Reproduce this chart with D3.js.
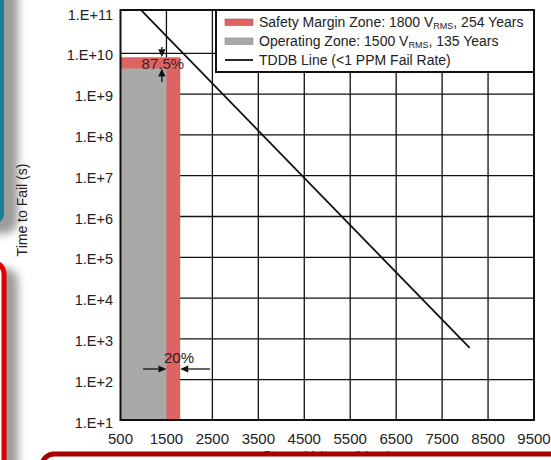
<!DOCTYPE html>
<html>
<head>
<meta charset="utf-8">
<script src="https://cdn.jsdelivr.net/npm/d3@7"></script>
<style>
  html, body { margin: 0; padding: 0; background: #fff; }
  svg { display: block; font-family: "Liberation Sans", Arial, sans-serif; }
</style>
</head>
<body>
<svg id="chart" width="551" height="460"></svg>
<script>
// Axis ticks
const xTicks = [500, 1500, 2500, 3500, 4500, 5500, 6500, 7500, 8500, 9500];
const yTicks = [1e1, 1e2, 1e3, 1e4, 1e5, 1e6, 1e7, 1e8, 1e9, 1e10, 1e11];
const yTickLabels = ["1.E+1", "1.E+2", "1.E+3", "1.E+4", "1.E+5", "1.E+6",
                     "1.E+7", "1.E+8", "1.E+9", "1.E+10", "1.E+11"];

// Zones: rated voltage and lifetime in years
const zoneNames = ["Safety Margin Zone", "Operating Zone"];
const zoneVoltage = [1800, 1500];
const zoneYears = [254, 135];
const zoneColors = ["#de6464", "#a9a9a9"];

// TDDB line end points (voltage, seconds)
const tddbVoltage = [930, 8100];
const tddbTime = [1.2e11, 6e2];

const SECONDS_PER_YEAR = 365 * 24 * 3600;
const V_MIN = 500;

const svg = d3.select("#chart");

// ---- slide decoration around the chart ----
const defs = svg.append("defs");
const blur = defs.append("filter").attr("id", "shadow")
  .attr("x", "-50%").attr("y", "-50%").attr("width", "200%").attr("height", "200%");
blur.append("feGaussianBlur").attr("stdDeviation", 4);

const deco = svg.append("g");
// teal panel (top left) with shadow
deco.append("rect").attr("x", -60).attr("y", -20).attr("width", 78).attr("height", 254)
  .attr("rx", 14).attr("fill", "#9c9c9c").attr("filter", "url(#shadow)");
deco.append("rect").attr("x", -60).attr("y", -20).attr("width", 64).attr("height", 245)
  .attr("rx", 12).attr("fill", "#1a7d92");
// red panel (bottom left) with shadow
deco.append("rect").attr("x", -60).attr("y", 268).attr("width", 78).attr("height", 240)
  .attr("rx", 14).attr("fill", "#9c9c9c").attr("filter", "url(#shadow)");
deco.append("rect").attr("x", -60).attr("y", 262).attr("width", 64).attr("height", 240)
  .attr("rx", 12).attr("fill", "#fff").attr("stroke", "#e00000").attr("stroke-width", 5);

// ---- chart ----
const plot = { left: 120.5, right: 534, top: 10, bottom: 420 };

const x = d3.scaleLinear().domain([500, 9500]).range([plot.left, plot.right]);
const y = d3.scaleLog().domain([1e1, 1e11]).range([420.5, 12.5]);

const g = svg.append("g");

// plot background
g.append("rect").attr("x", plot.left).attr("y", plot.top)
  .attr("width", plot.right - plot.left).attr("height", plot.bottom - plot.top)
  .attr("fill", "#fff");

// grid
g.append("g").selectAll("line").data(xTicks.slice(1, -1)).join("line")
  .attr("x1", d => x(d)).attr("x2", d => x(d))
  .attr("y1", plot.top).attr("y2", plot.bottom)
  .attr("stroke", "#111").attr("stroke-width", 1.3);
g.append("g").selectAll("line").data(yTicks.slice(1, -1)).join("line")
  .attr("x1", plot.left).attr("x2", plot.right)
  .attr("y1", d => y(d)).attr("y2", d => y(d))
  .attr("stroke", "#111").attr("stroke-width", 1.3);

// zone bars (safety margin behind, operating in front)
g.append("g").selectAll("rect").data(zoneNames).join("rect")
  .attr("x", x(V_MIN))
  .attr("y", (d, i) => y(zoneYears[i] * SECONDS_PER_YEAR))
  .attr("width", (d, i) => x(zoneVoltage[i]) - x(V_MIN))
  .attr("height", (d, i) => plot.bottom - y(zoneYears[i] * SECONDS_PER_YEAR))
  .attr("fill", (d, i) => zoneColors[i]);

// TDDB line, clipped to the plot frame
defs.append("clipPath").attr("id", "plotClip").append("rect")
  .attr("x", plot.left).attr("y", plot.top)
  .attr("width", plot.right - plot.left).attr("height", plot.bottom - plot.top);
const tddb = tddbVoltage.map((v, i) => [v, tddbTime[i]]);
g.append("path").datum(tddb)
  .attr("clip-path", "url(#plotClip)")
  .attr("d", d3.line().x(d => x(d[0])).y(d => y(d[1])))
  .attr("fill", "none").attr("stroke", "#111").attr("stroke-width", 1.8);

// frame
g.append("rect").attr("x", plot.left).attr("y", plot.top)
  .attr("width", plot.right - plot.left).attr("height", plot.bottom - plot.top)
  .attr("fill", "none").attr("stroke", "#111").attr("stroke-width", 2);

// arrow helper: tail -> tip with a filled head
function arrow(x1, y1, x2, y2) {
  const a = Math.atan2(y2 - y1, x2 - x1);
  const len = 8, half = 3.6;
  const bx = x2 - len * Math.cos(a), by = y2 - len * Math.sin(a);
  g.append("line").attr("x1", x1).attr("y1", y1).attr("x2", bx).attr("y2", by)
    .attr("stroke", "#111").attr("stroke-width", 1.3);
  g.append("path")
    .attr("d", `M${x2},${y2}L${bx - half * Math.sin(a)},${by + half * Math.cos(a)}L${bx + half * Math.sin(a)},${by - half * Math.cos(a)}Z`)
    .attr("fill", "#111");
}

// lifetime annotation (87.5%)
const yRed = y(zoneYears[0] * SECONDS_PER_YEAR);
const yGray = y(zoneYears[1] * SECONDS_PER_YEAR);
const xAnn = x(1400);
arrow(xAnn, 47, xAnn, yRed);
arrow(xAnn, 82, xAnn, yGray);
g.append("text").attr("x", xAnn + 1).attr("y", 68.5)
  .attr("text-anchor", "middle").attr("font-size", 15).attr("fill", "#4a1e1e")
  .text("87.5%");

// voltage margin annotation (20%)
const yArr = 369;
arrow(143, yArr, x(zoneVoltage[1]), yArr);
arrow(210, yArr, x(zoneVoltage[0]), yArr);
g.append("text").attr("x", 179).attr("y", 363)
  .attr("text-anchor", "middle").attr("font-size", 15).attr("fill", "#222")
  .text("20%");

// y tick labels
g.append("g").selectAll("text").data(yTicks).join("text")
  .attr("x", 113).attr("y", d => y(d) + 2)
  .attr("dy", "0.35em").attr("text-anchor", "end")
  .attr("font-size", 14.5).attr("fill", "#222")
  .text((d, i) => yTickLabels[i]);

// x tick labels
g.append("g").selectAll("text").data(xTicks).join("text")
  .attr("x", d => x(d)).attr("y", 444)
  .attr("text-anchor", "middle").attr("font-size", 15).attr("fill", "#222")
  .text(d => d);

// axis titles
g.append("text").attr("transform", "translate(27,210) rotate(-90)")
  .attr("text-anchor", "middle").attr("font-size", 14).attr("fill", "#222")
  .text("Time to Fail (s)");
const xt = g.append("text").attr("x", (plot.left + plot.right) / 2).attr("y", 459.5)
  .attr("text-anchor", "middle").attr("font-size", 13.5).attr("fill", "#222");
xt.append("tspan").text("Stress Voltage (V");
xt.append("tspan").attr("font-size", 9).attr("dy", 1.5).text("RMS");
xt.append("tspan").attr("dy", -1.5).text(")");

// legend
const lg = g.append("g");
lg.append("rect").attr("x", 216).attr("y", plot.top).attr("width", plot.right - 216).attr("height", 62)
  .attr("fill", "#fff").attr("stroke", "#111").attr("stroke-width", 2);
const rows = [
  { type: "rect", color: zoneColors[0], pre: `${zoneNames[0]}: ${zoneVoltage[0]} V`, post: `, ${zoneYears[0]} Years` },
  { type: "rect", color: zoneColors[1], pre: `${zoneNames[1]}: ${zoneVoltage[1]} V`, post: `, ${zoneYears[1]} Years` },
  { type: "line", color: "#111", pre: "TDDB Line (<1 PPM Fail Rate)", post: null }
];
rows.forEach((r, i) => {
  const cy = 22 + i * 19;
  if (r.type === "rect") {
    lg.append("rect").attr("x", 225).attr("y", cy - 3).attr("width", 28).attr("height", 6.5)
      .attr("fill", r.color).attr("stroke", d3.color(r.color).darker(0.6)).attr("stroke-width", 0.6);
  } else {
    lg.append("line").attr("x1", 225).attr("x2", 253).attr("y1", cy).attr("y2", cy)
      .attr("stroke", r.color).attr("stroke-width", 1.8);
  }
  const t = lg.append("text").attr("x", 259).attr("y", cy + 5)
    .attr("font-size", 14).attr("fill", "#222");
  t.append("tspan").text(r.pre);
  if (r.post) {
    t.append("tspan").attr("font-size", 9).attr("dy", 1.5).text("RMS");
    t.append("tspan").attr("dy", -1.5).text(r.post);
  }
});

// bottom caption panel
svg.append("rect").attr("x", 42).attr("y", 454).attr("width", 560).attr("height", 60)
  .attr("rx", 12).attr("fill", "#fff").attr("stroke", "#a80000").attr("stroke-width", 5);
</script>
</body>
</html>
